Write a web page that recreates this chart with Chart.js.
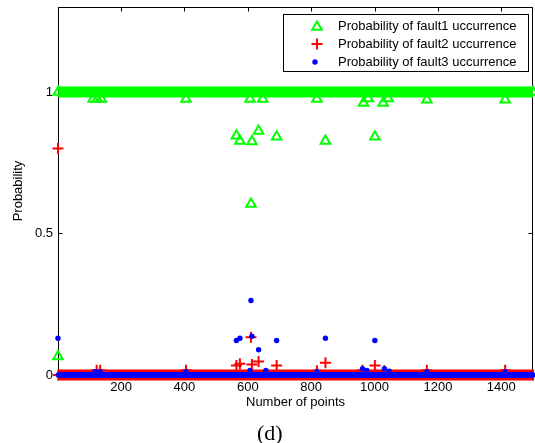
<!DOCTYPE html>
<html>
<head>
<meta charset="utf-8">
<script src="https://cdn.jsdelivr.net/npm/chart.js@4.4.0/dist/chart.umd.min.js"></script>
<style>
  html, body { margin: 0; padding: 0; background: #fff; }
  #wrap { position: relative; width: 535px; height: 443px; }
  #caption { position: absolute; left: 257px; top: 420px; line-height: 24px; font: 22px "Liberation Serif", "Times New Roman", serif; color: #000; }
</style>
</head>
<body>
<div id="wrap">
  <canvas id="chart" width="535" height="443"></canvas>
  <div id="caption">(d)</div>
</div>
<script>
// x range of the sample index and tick labels
const xRange = [1, 1500];
const xTicks = [200, 400, 600, 800, 1000, 1200, 1400];
const yRange = [0, 1.3];
const yTicks = [0, 0.5, 1];

// steady level each series sits at for the points not listed below
const bandX = [2, 1500];
const fault1Level = 1;
const fault2Level = 0;
const fault3Level = 0;

// points that leave the steady level
const fault1X = [1, 112, 125, 138, 405, 564, 575, 607, 610, 613, 634, 647, 691, 818, 845, 965, 980, 1001, 1027, 1043, 1165, 1412];
const fault1Y = [0.065, 0.975, 0.975, 0.975, 0.975, 0.845, 0.827, 0.975, 0.604, 0.825, 0.862, 0.975, 0.842, 0.975, 0.827, 0.961, 0.977, 0.842, 0.961, 0.977, 0.972, 0.972];

const fault2X = [1, 123, 134, 405, 564, 575, 610, 613, 634, 691, 818, 845, 962, 1001, 1031, 1165, 1412];
const fault2Y = [0.8, 0.017, 0.017, 0.017, 0.034, 0.04, 0.133, 0.037, 0.048, 0.034, 0.015, 0.043, 0.017, 0.034, 0.015, 0.017, 0.017];

const fault3X = [1, 118, 134, 405, 564, 575, 607, 610, 613, 634, 657, 691, 818, 845, 962, 976, 1001, 1031, 1046, 1165, 1412];
const fault3Y = [0.13, 0.012, 0.012, 0.012, 0.122, 0.13, 0.016, 0.263, 0.137, 0.089, 0.016, 0.122, 0.012, 0.13, 0.022, 0.016, 0.122, 0.022, 0.013, 0.012, 0.012];

const seriesNames = [
  "Probability of fault1 uccurrence",
  "Probability of fault2 uccurrence",
  "Probability of fault3 uccurrence",
];
const xTitle = "Number of points";
const yTitle = "Probability";

const GREEN = "#00ff00";
const RED = "#ff0000";
const BLUE = "#0000ff";
const FONT = '"Liberation Sans", Arial, sans-serif';

Chart.defaults.font.family = FONT;
Chart.defaults.font.size = 13;
Chart.defaults.color = "#000";

const toPoints = (xs, ys) => xs.map((x, i) => ({ x: x, y: ys[i] }));
const band = (level) => bandX.map((x) => ({ x: x, y: level }));

const markers = [
  { pointStyle: "triangle", radius: 5.5, borderWidth: 2, color: GREEN, fill: "rgba(0,0,0,0)" },
  { pointStyle: "cross", radius: 5.5, borderWidth: 2, color: RED, fill: RED },
  { pointStyle: "circle", radius: 2.7, borderWidth: 0, color: BLUE, fill: BLUE },
];

function pointOpts(m) {
  return {
    pointStyle: m.pointStyle,
    pointRadius: m.radius,
    pointBorderWidth: m.borderWidth,
    pointBorderColor: m.color,
    pointBackgroundColor: m.fill,
    clip: false,
  };
}

const datasets = [
  Object.assign({ label: "fault1 level", data: band(fault1Level), showLine: true, borderColor: GREEN, borderWidth: 11, order: 6 }, pointOpts(markers[0])),
  Object.assign({ label: seriesNames[0], data: toPoints(fault1X, fault1Y), showLine: false, order: 5 }, pointOpts(markers[0])),
  Object.assign({ label: "fault2 level", data: band(fault2Level), showLine: true, borderColor: RED, borderWidth: 11, order: 4 }, pointOpts(markers[1])),
  Object.assign({ label: seriesNames[1], data: toPoints(fault2X, fault2Y), showLine: false, order: 3 }, pointOpts(markers[1])),
  Object.assign({ label: "fault3 level", data: band(fault3Level), showLine: true, borderColor: BLUE, borderWidth: 6, order: 2 }, pointOpts(markers[2])),
  Object.assign({ label: seriesNames[2], data: toPoints(fault3X, fault3Y), showLine: false, order: 1 }, pointOpts(markers[2])),
];

// axes box with inward ticks on all four sides
const framePlugin = {
  id: "frame",
  beforeDatasetsDraw(chart) {
    const { ctx, chartArea: a, scales } = chart;
    const L = Math.round(a.left) + 0.5, R = Math.round(a.right) - 0.5;
    const T = Math.round(a.top) + 0.5, B = Math.round(a.bottom) - 0.5;
    ctx.save();
    ctx.strokeStyle = "#000";
    ctx.lineWidth = 1;
    ctx.strokeRect(L, T, R - L, B - T);
    ctx.beginPath();
    xTicks.forEach((v) => {
      const px = Math.round(scales.x.getPixelForValue(v)) + 0.5;
      ctx.moveTo(px, T); ctx.lineTo(px, T + 4);
      ctx.moveTo(px, B); ctx.lineTo(px, B - 4);
    });
    yTicks.forEach((v) => {
      const py = Math.round(scales.y.getPixelForValue(v)) + 0.5;
      ctx.moveTo(L, py); ctx.lineTo(L + 4, py);
      ctx.moveTo(R, py); ctx.lineTo(R - 4, py);
    });
    ctx.stroke();
    ctx.restore();
  },
  afterDraw(chart) {
    // boxed legend in the upper right corner
    const ctx = chart.ctx;
    ctx.save();
    ctx.fillStyle = "#fff";
    ctx.fillRect(283.5, 14.5, 245, 57);
    ctx.strokeStyle = "#000";
    ctx.lineWidth = 1;
    ctx.strokeRect(283.5, 14.5, 245, 57);
    seriesNames.forEach((name, i) => {
      const y = 26 + i * 18;
      const m = markers[i];
      ctx.strokeStyle = m.color;
      ctx.fillStyle = m.fill;
      ctx.lineWidth = m.borderWidth;
      Chart.helpers.drawPoint(ctx, { pointStyle: m.pointStyle, radius: m.radius, borderWidth: m.borderWidth, rotation: 0 }, i === 2 ? 315 : 317, y + (i === 0 ? 1 : 0));
      ctx.fillStyle = "#000";
      ctx.font = "13px " + FONT;
      ctx.textBaseline = "middle";
      ctx.textAlign = "left";
      ctx.fillText(name, 338, y);
    });
    ctx.restore();
  },
};

new Chart(document.getElementById("chart"), {
  type: "scatter",
  data: { datasets: datasets },
  options: {
    responsive: false,
    animation: false,
    events: [],
    layout: { autoPadding: false, padding: { top: 7, right: 2, left: 0, bottom: 0 } },
    plugins: { legend: { display: false }, tooltip: { enabled: false } },
    scales: {
      x: {
        type: "linear",
        min: xRange[0],
        max: xRange[1],
        grid: { display: false, drawTicks: false },
        border: { display: false },
        afterBuildTicks: (s) => { s.ticks = xTicks.map((v) => ({ value: v })); },
        afterFit: (s) => { s.height = 68; s.paddingLeft = 0; s.paddingRight = 0; },
        ticks: { padding: 5, maxRotation: 0, autoSkip: false, callback: (v) => String(v) },
        title: { display: true, text: xTitle, padding: { top: 0, bottom: 33 } },
      },
      y: {
        type: "linear",
        min: yRange[0],
        max: yRange[1],
        grid: { display: false, drawTicks: false },
        border: { display: false },
        afterBuildTicks: (s) => { s.ticks = yTicks.map((v) => ({ value: v })); },
        afterFit: (s) => { s.width = 58; s.paddingTop = 0; s.paddingBottom = 0; },
        ticks: { padding: 5, callback: (v) => String(v) },
        title: { display: true, text: yTitle, padding: { top: 11, bottom: 0 } },
      },
    },
  },
  plugins: [framePlugin],
});
</script>
</body>
</html>
